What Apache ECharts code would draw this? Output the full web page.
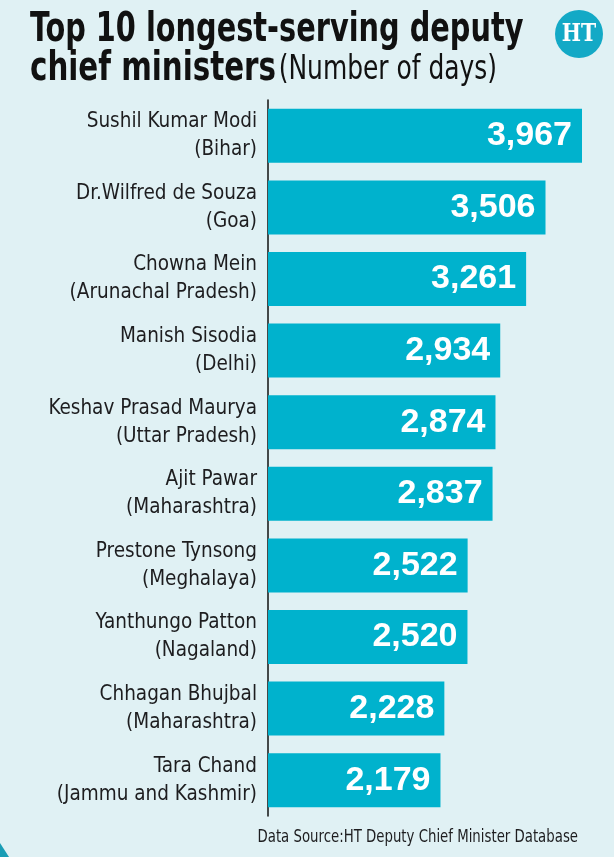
<!DOCTYPE html>
<html>
<head>
<meta charset="utf-8">
<script src="https://cdn.jsdelivr.net/npm/echarts@6/dist/echarts.min.js"></script>
<style>
  html, body { margin: 0; padding: 0; background: #e0f1f4; }
  #chart { width: 614px; height: 857px; }
</style>
</head>
<body>
<div id="chart"></div>
<script>
    // data
    let names = ['Sushil Kumar Modi', 'Dr.Wilfred de Souza', 'Chowna Mein', 'Manish Sisodia', 'Keshav Prasad Maurya',
        'Ajit Pawar', 'Prestone Tynsong', 'Yanthungo Patton', 'Chhagan Bhujbal', 'Tara Chand'];
    let states = ['Bihar', 'Goa', 'Arunachal Pradesh', 'Delhi', 'Uttar Pradesh',
        'Maharashtra', 'Meghalaya', 'Nagaland', 'Maharashtra', 'Jammu and Kashmir'];
    let days = [3967, 3506, 3261, 2934, 2874, 2837, 2522, 2520, 2228, 2179];

    let font = '"DejaVu Sans Condensed", "Liberation Sans Narrow", sans-serif';

    let chart = echarts.init(document.getElementById('chart'));
    chart.setOption({
        backgroundColor: '#e0f1f4',
        animation: false,
        grid: {left: 268, top: 100, width: 314, height: 716},
        xAxis: {
            type: 'value', min: 0, max: 3967, show: false
        },
        yAxis: {
            type: 'category',
            inverse: true,
            data: names.map(function (n, i) { return n + '\n(' + states[i] + ')'; }),
            axisLine: {show: true, lineStyle: {color: '#111', width: 1.5}},
            axisTick: {show: false},
            axisLabel: {
                margin: 11,
                color: '#1d1d1f',
                fontFamily: font,
                fontSize: 20.5,
                lineHeight: 28,
                align: 'right'
            }
        },
        series: [{
            type: 'bar',
            data: days,
            barWidth: 54,
            itemStyle: {color: '#00b2cd'},
            label: {
                show: true,
                position: 'insideRight',
                distance: 10,
                color: '#fff',
                fontFamily: '"Liberation Sans", Arial, sans-serif',
                fontWeight: 'bold',
                fontSize: 34,
                formatter: function (p) { return p.value.toLocaleString('en-US'); }
            }
        }],
        graphic: [
            {
                type: 'text', x: 30, y: 11, scaleX: 0.8,
                style: {text: 'Top 10 longest-serving deputy', fontFamily: font, fontWeight: 'bold', fontSize: 40, fill: '#111'}
            },
            {
                type: 'text', x: 30, y: 50, scaleX: 0.815,
                style: {
                    text: '{b|chief ministers} {n|(Number of days)}',
                    rich: {
                        b: {fontFamily: font, fontWeight: 'bold', fontSize: 40, fill: '#111'},
                        n: {fontFamily: font, fontSize: 34, fill: '#111'}
                    }
                }
            },
            {
                type: 'circle', shape: {cx: 579, cy: 34, r: 24}, style: {fill: '#13a9c6'}
            },
            {
                type: 'text', x: 579, y: 35, scaleX: 0.85,
                style: {
                    text: 'HT', fontFamily: '"DejaVu Serif", serif', fontWeight: 'bold',
                    fontSize: 24, fill: '#fff', align: 'center', verticalAlign: 'middle'
                }
            },
            {
                type: 'text', x: 578, y: 838, scaleX: 0.87,
                style: {
                    text: 'Data Source:HT Deputy Chief Minister Database', fontFamily: font, fontSize: 17,
                    fill: '#1d1d1f', align: 'right', verticalAlign: 'middle'
                }
            },
            {
                type: 'polygon', shape: {points: [[0, 843], [0, 857], [9, 857]]}, style: {fill: '#1a9db5'}
            }
        ]
    });
</script>
</body>
</html>
